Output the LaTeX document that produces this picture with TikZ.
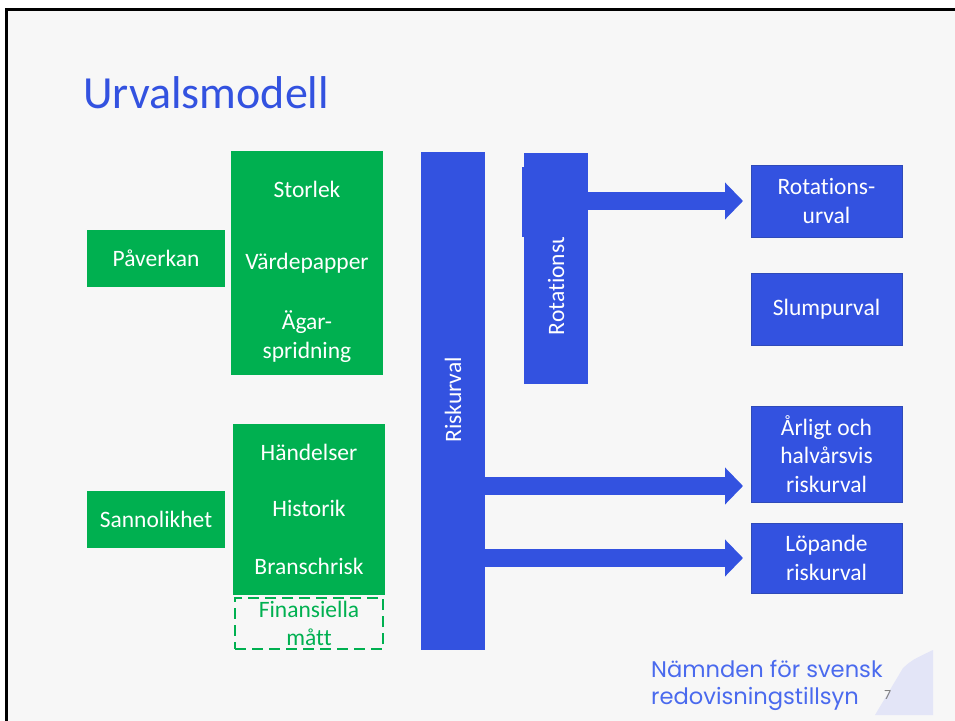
\documentclass[tikz,border=0pt]{standalone}
\usepackage{fontspec}
\setmainfont{Carlito}[Ligatures=NoCommon]
\newfontfamily\footfont{Poppins}
\usetikzlibrary{arrows.meta}
\definecolor{gr}{HTML}{00B050}
\definecolor{bl}{HTML}{3352E0}
\definecolor{blborder}{HTML}{2F4AB8}
\definecolor{slidebg}{HTML}{F7F7F7}
\definecolor{foot}{HTML}{4A6AEE}
\definecolor{lav}{HTML}{E3E5F7}
\tikzset{
  box/.style={rectangle, inner sep=0pt, outer sep=0pt, text=white, align=center,
    font=\fontsize{23.5}{28.5}\selectfont},
  gbox/.style={box, fill=gr},
  bbox/.style={box, fill=bl},
  rbox/.style={box, fill=bl, draw=blborder, line width=1pt},
  fat/.style={bl, line width=18pt, -{Triangle[length=18pt,width=36pt]}, shorten >=8pt},
}
\begin{document}
\begin{tikzpicture}[x=1pt,y=-1pt]
\clip (0,0) rectangle (955,720);
\fill[white] (0,0) rectangle (955,720);
\filldraw[fill=slidebg, draw=black, line width=3pt] (6,9.5) rectangle (980,740);

\node[anchor=base west, text=bl, font=\fontsize{46}{50}\selectfont, inner sep=0pt] (title) at (83,108) {Urvalsmodell};

% left green
\node[gbox, minimum width=138pt, minimum height=57pt] (pav) at (156,258.5) {Påverkan};
\node[gbox, minimum width=152pt, minimum height=77pt] (s1a) at (307,189.5) {Storlek};
\node[gbox, minimum width=152pt, minimum height=72pt] (s1b) at (307,263.5) {Värdepapper};
\node[gbox, minimum width=152pt, minimum height=77pt] (s1c) at (307,336.5) {Ägar-\\spridning};

\node[gbox, minimum width=138pt, minimum height=57pt] (san) at (156,519.5) {Sannolikhet};
\node[gbox, minimum width=152pt, minimum height=57pt] (s2a) at (309,452) {Händelser};
\node[gbox, minimum width=152pt, minimum height=58pt] (s2b) at (309,508.5) {Historik};
\node[gbox, minimum width=152pt, minimum height=58pt] (s2c) at (309,566) {Branschrisk};
\node[box, text=gr, draw=gr, dash pattern=on 11pt off 6pt, line width=2.5pt,
      minimum width=148pt, minimum height=51pt] (fin) at (309,623.5) {Finansiella\\mått};

% columns
\node[bbox, minimum width=64pt, minimum height=498pt] (risk) at (453,401) {};
\node[text=white, rotate=90, font=\fontsize{23.5}{28}\selectfont, inner sep=0pt] (risktxt) at (453,400) {Riskurval};
\node[bbox, minimum width=64pt, minimum height=231pt] (rot) at (556,268.5) {};
\node[text=white, rotate=90, font=\fontsize{23.5}{28}\selectfont, inner sep=0pt] (rottxt) at (556,266) {Rotationsurval};
\node[bbox, minimum width=66pt, minimum height=70pt] (rotcap) at (555,202) {};

% right boxes
\node[rbox, minimum width=151pt, minimum height=72pt] (b1) at (826.5,201) {Rotations-\\urval};
\node[rbox, minimum width=151pt, minimum height=72pt] (b2) at (826.5,309) {Slumpurval};
\node[rbox, minimum width=151pt, minimum height=96pt] (b3) at (826.5,454) {Årligt och\\halvårsvis\\riskurval};
\node[rbox, minimum width=151pt, minimum height=70pt] (b4) at (826.5,558) {Löpande\\riskurval};

% arrows
\coordinate (t3) at (0,486);
\draw[fat] (b1.west -| rotcap.east) -- (b1.west);
\draw[fat] (risk.east |- t3) -- (b3.west |- t3);
\draw[fat] (risk.east |- b4.west) -- (b4.west);

% footer
\fill[lav] (875,715) -- (903,668) .. controls (912,660) .. (933,650) -- (933,715) -- cycle;
\node[anchor=base west, inner sep=0pt, text=foot, font=\footfont\fontsize{22.6}{26}\selectfont] (f1) at (651,677) {Nämnden för svensk};
\node[anchor=base west, inner sep=0pt, text=foot, font=\footfont\fontsize{22.6}{26}\selectfont] (f2) at (651,704) {redovisningstillsyn};
\node[anchor=base west, inner sep=0pt, text=gray, font=\fontsize{14}{16}\selectfont] (pg) at (884,699) {7};
\end{tikzpicture}
\end{document}
